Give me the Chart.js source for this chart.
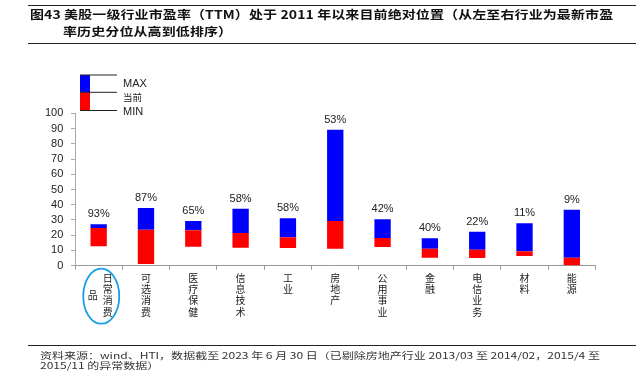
<!DOCTYPE html>
<html>
<head>
<meta charset="utf-8">
<script src="https://cdn.jsdelivr.net/npm/chart.js@4.4.0/dist/chart.umd.min.js"></script>
<style>
  html, body { margin:0; padding:0; background:#fff; }
  body { width:636px; height:379px; position:relative; overflow:hidden; }
  #c { position:absolute; left:0; top:0; }
  .rule { position:absolute; left:28px; right:0; height:0; border-top:1.3px solid #222; }
  #title { position:absolute; left:30px; top:5px; font-family:"Noto Sans CJK SC", sans-serif; font-weight:bold; font-size:14px; line-height:21px; white-space:nowrap; color:#111; transform:scaleY(0.85); transform-origin:top left; letter-spacing:0.1px; }
  #title .l2 { padding-left:33px; }
  #foot { position:absolute; left:40px; top:350.5px; font-family:"Noto Sans CJK SC", sans-serif; font-size:12px; line-height:12.5px; white-space:nowrap; color:#333; transform:scaleY(0.75); transform-origin:top left; }
</style>
</head>
<body>
<canvas id="c" width="636" height="379"></canvas>
<div class="rule" style="top:5px"></div>
<div id="title">图43 美股一级行业市盈率（TTM）处于 2011 年以来目前绝对位置（从左至右行业为最新市盈<br><span class="l2">率历史分位从高到低排序）</span></div>
<div class="rule" style="top:43px"></div>
<div class="rule" style="top:345px"></div>
<div id="foot">资料来源：wind、HTI，数据截至 2023 年 6 月 30 日（已剔除房地产行业 2013/03 至 2014/02，2015/4 至<br>2015/11 的异常数据）</div>
<script>
const categories = ['日常消费品','可选消费','医疗保健','信息技术','工业','房地产','公用事业','金融','电信业务','材料','能源'];
const maxVals = [27.2, 37.9, 29.3, 37.4, 31.1, 89.2, 30.4, 18.0, 22.3, 27.8, 36.7];
const curVals = [24.7, 23.6, 23.2, 21.5, 18.6, 29.3, 18.2, 11.2, 10.5, 9.4, 5.2];
const minVals = [12.7, 1.1, 12.5, 11.8, 11.6, 11.2, 12.3, 5.2, 5.1, 6.4, 0.0];
const pctLabels = ['93%','87%','65%','58%','58%','53%','42%','40%','22%','11%','9%'];
const yTicks = [0,10,20,30,40,50,60,70,80,90,100];
const legendLabels = ['MAX','当前','MIN'];

const overlay = {
  id: 'overlay',
  afterDraw(chart) {
    const ctx = chart.ctx, xs = chart.scales.x, ys = chart.scales.y;
    ctx.save();
    // percent labels
    ctx.font = '11px "Liberation Sans", Arial, sans-serif';
    ctx.fillStyle = '#222';
    ctx.textAlign = 'center';
    ctx.textBaseline = 'middle';
    pctLabels.forEach((t, i) => {
      ctx.fillText(t, xs.getPixelForValue(i), ys.getPixelForValue(maxVals[i]) - 10);
    });
    // vertical category labels
    ctx.font = '10px "Noto Sans CJK SC", sans-serif';
    ctx.fillStyle = '#222';
    const lh = 11.3, y0 = ys.bottom + 12.3;
    categories.forEach((c, i) => {
      const cx = xs.getPixelForValue(i);
      const chars = [...c];
      const cols = [];
      for (let k = 0; k < chars.length; k += 4) cols.push(chars.slice(k, k + 4));
      if (cols.length === 1) {
        chars.forEach((ch, j) => ctx.fillText(ch, cx, y0 + j * lh));
      } else {
        cols[0].forEach((ch, j) => ctx.fillText(ch, cx + 9, y0 + j * lh));
        const off = (cols[0].length - cols[1].length) * lh / 2;
        cols[1].forEach((ch, j) => ctx.fillText(ch, cx - 6, y0 + off + j * lh));
      }
    });
    // ellipse around first category label
    const ex = xs.getPixelForValue(0) + 2.6, ey = ys.bottom + 30.5;
    ctx.beginPath();
    ctx.ellipse(ex, ey, 18, 27.5, 0, 0, Math.PI * 2);
    ctx.strokeStyle = '#1a9fe6';
    ctx.lineWidth = 1.8;
    ctx.stroke();
    // custom legend
    ctx.fillStyle = '#0000ff';
    ctx.fillRect(80, 75, 10, 17.3);
    ctx.fillStyle = '#ff0000';
    ctx.fillRect(80, 92.3, 10, 18.4);
    ctx.lineWidth = 1;
    ctx.strokeStyle = '#222';
    [75, 92.3, 110.5].forEach(yy => {
      ctx.beginPath(); ctx.moveTo(80, yy); ctx.lineTo(117, yy); ctx.stroke();
    });
    ctx.textAlign = 'left';
    ctx.fillStyle = '#222';
    ctx.font = '11px "Liberation Sans", Arial, sans-serif';
    ctx.fillText(legendLabels[0], 123, 84);
    ctx.font = '9.5px "Noto Sans CJK SC", sans-serif';
    ctx.fillText(legendLabels[1], 123, 97.7);
    ctx.font = '11px "Liberation Sans", Arial, sans-serif';
    ctx.fillText(legendLabels[2], 123, 111.7);
    ctx.restore();
  }
};

new Chart(document.getElementById('c'), {
  type: 'bar',
  data: {
    labels: categories,
    datasets: [
      { label: 'cur-min', data: minVals.map((m, i) => [m, curVals[i]]), backgroundColor: '#ff0000', grouped: false, borderWidth: 0 },
      { label: 'max-cur', data: curVals.map((c, i) => [c, maxVals[i]]), backgroundColor: '#0000ff', grouped: false, borderWidth: 0 }
    ]
  },
  options: {
    responsive: false,
    animation: false,
    categoryPercentage: 1,
    barPercentage: 0.345,
    layout: { padding: { left: 0, right: 40.5, top: 113.3, bottom: 109.3 } },
    plugins: { legend: { display: false }, tooltip: { enabled: false } },
    scales: {
      x: {
        grid: { display: true, drawOnChartArea: false, drawTicks: true, tickLength: 4, color: '#999', offset: true },
        border: { display: true, color: '#999' },
        ticks: { display: false },
        afterFit(s) { s.height = 4; }
      },
      y: {
        min: 0, max: 100,
        afterBuildTicks(s) { s.ticks = yTicks.map(v => ({ value: v })); },
        ticks: { autoSkip: false, font: { size: 11, family: '"Liberation Sans", Arial, sans-serif' }, color: '#222', padding: 7.7 },
        grid: { drawOnChartArea: false, drawTicks: true, tickLength: 4, color: '#aaa' },
        border: { display: true, color: '#aaa' },
        afterFit(s) { s.width = 75; }
      }
    }
  },
  plugins: [overlay]
});
</script>
</body>
</html>
